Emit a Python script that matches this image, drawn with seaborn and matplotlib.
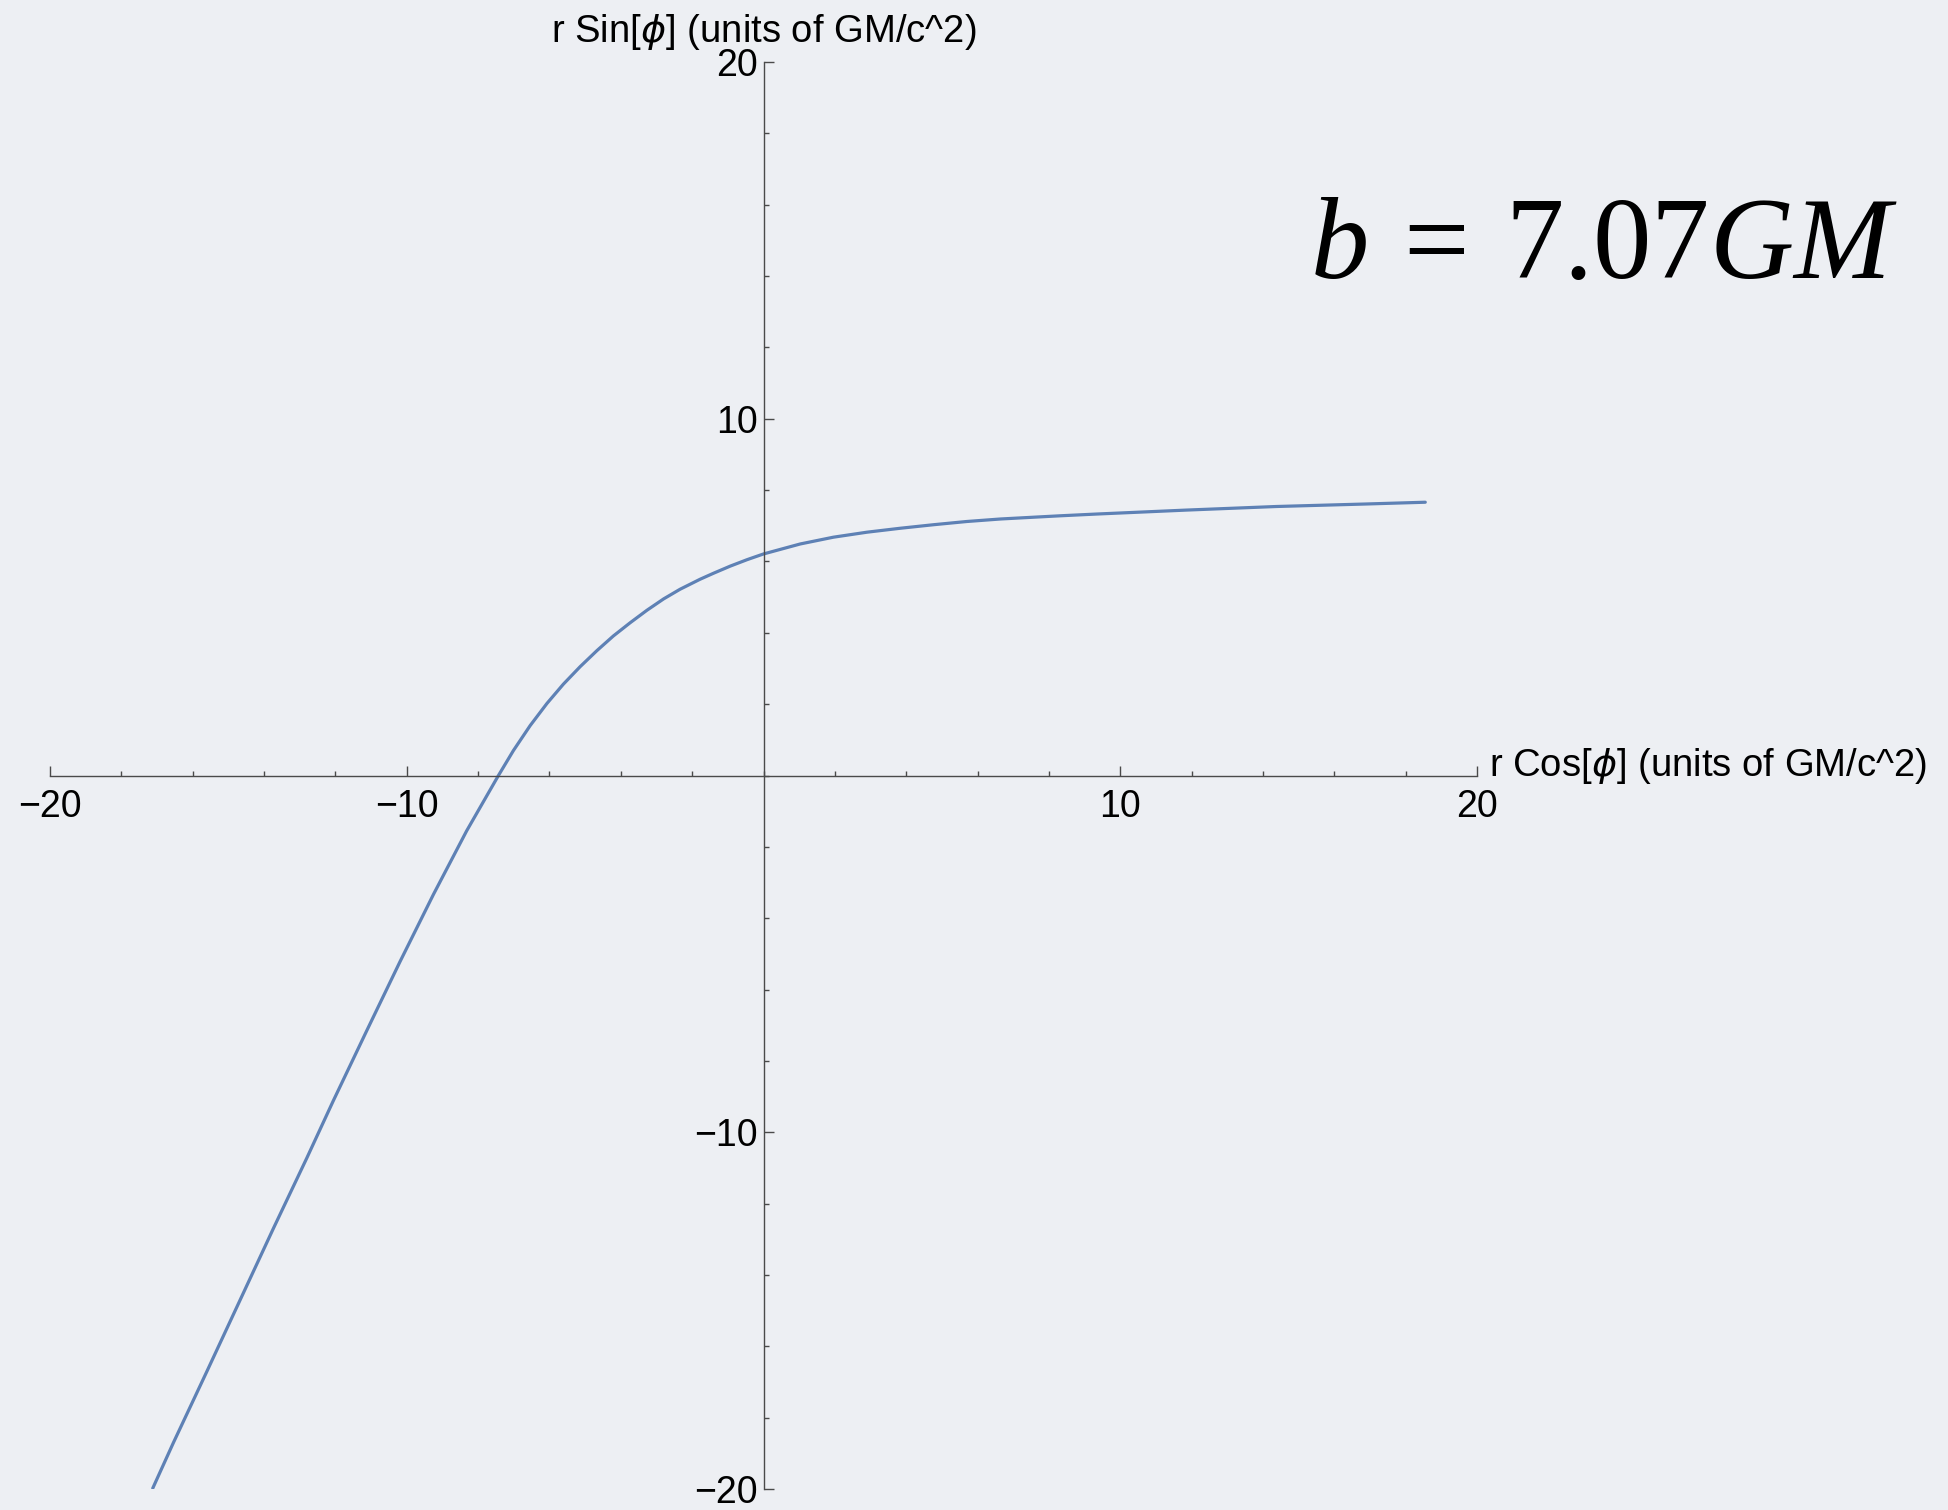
import matplotlib
matplotlib.use("Agg")
import matplotlib.pyplot as plt
import seaborn as sns
import pandas as pd
from matplotlib.ticker import MultipleLocator, FixedLocator

# Light-ray trajectory past a mass, traced in the orbital plane
ray_x = [-17.12, -16.54, -15.61, -14.67, -13.74, -12.80, -12.06, -11.12, -10.19,
         -9.25, -8.32, -7.43, -7.01, -6.54, -6.07, -5.61, -5.14, -4.67, -4.21,
         -3.74, -3.27, -2.80, -2.34, -1.78, -1.40, -0.93, -0.46, 0.00, 1.03,
         1.96, 2.90, 3.83, 4.77, 5.70, 6.64, 7.57, 8.32, 9.36, 11.86, 14.37,
         16.87, 18.55]
ray_y = [-19.98, -18.70, -16.72, -14.70, -12.70, -10.72, -9.12, -7.15, -5.22,
         -3.33, -1.55, 0.00, 0.70, 1.40, 2.02, 2.56, 3.05, 3.50, 3.91,
         4.28, 4.63, 4.95, 5.22, 5.50, 5.67, 5.87, 6.05, 6.21, 6.49,
         6.68, 6.82, 6.93, 7.03, 7.12, 7.19, 7.24, 7.28, 7.33, 7.44, 7.54,
         7.61, 7.66]

major_ticks = [-20, -10, 10, 20]
x_label = r"r Cos[$\phi$] (units of GM/c^2)"
y_label = r"r Sin[$\phi$] (units of GM/c^2)"
impact_note = r"$b\>=\>7.07GM$"

sns.set_theme(style="white")
bg = "#EDEFF3"
plt.rcParams["font.family"] = ["Liberation Sans", "DejaVu Sans"]
plt.rcParams["mathtext.fontset"] = "dejavusans"

fig = plt.figure(figsize=(19.48, 15.10), dpi=100, facecolor=bg)
ax = fig.add_axes([50 / 1948, 21 / 1510, 1427 / 1948, 1427 / 1510])
ax.set_facecolor(bg)

df = pd.DataFrame({"x": ray_x, "y": ray_y})
sns.lineplot(data=df, x="x", y="y", sort=False, estimator=None,
             color="#5E81B5", linewidth=2.3, ax=ax)

ax.set_xlim(-20, 20)
ax.set_ylim(-20, 20)
ax.set_xlabel("")
ax.set_ylabel("")

axis_col = "#4a4a4a"
for side in ("top", "right"):
    ax.spines[side].set_visible(False)
for side in ("left", "bottom"):
    ax.spines[side].set_position(("data", 0))
    ax.spines[side].set_color(axis_col)
    ax.spines[side].set_linewidth(1.0)

ax.xaxis.set_major_locator(FixedLocator(major_ticks))
ax.yaxis.set_major_locator(FixedLocator(major_ticks))
ax.xaxis.set_minor_locator(MultipleLocator(2))
ax.yaxis.set_minor_locator(MultipleLocator(2))
ax.tick_params(which="both", bottom=True, left=True, top=False, right=False,
               direction="in", color=axis_col, width=1.0)
ax.tick_params(which="major", length=7.5, labelsize=27, labelcolor="black")
ax.tick_params(which="minor", length=3.8)
ax.tick_params(axis="x", which="major", pad=10)
ax.tick_params(axis="y", which="major", pad=4)

ax.text(20.35, 0.27, x_label, ha="left", va="center", fontsize=27.5,
        color="black", clip_on=False)
ax.text(0, 20.85, y_label, ha="center", va="center", fontsize=27.5,
        color="black", clip_on=False)

plt.rcParams["mathtext.fontset"] = "custom"
plt.rcParams["mathtext.rm"] = "Liberation Serif"
plt.rcParams["mathtext.it"] = "Liberation Serif:italic"
fig.text(1310 / 1948, 1 - 278 / 1510, impact_note, ha="left", va="baseline",
         fontsize=84, color="black")

fig.savefig("out.png", dpi=100, facecolor=bg)
